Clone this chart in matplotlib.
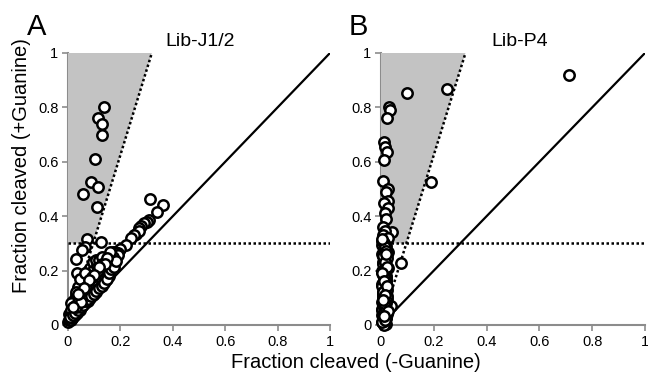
import matplotlib
matplotlib.use("Agg")
import matplotlib.pyplot as plt

plt.rcParams['font.family'] = ['Liberation Sans', 'DejaVu Sans']

# ---------------- data ----------------
titles = ["Lib-J1/2", "Lib-P4"]
panel_letters = ["A", "B"]
tick_vals = [0, 0.2, 0.4, 0.6, 0.8, 1]
tick_labels = ["0", "0.2", "0.4", "0.6", "0.8", "1"]
threshold_y = 0.3
ratio_end_x = 0.32

libJ_minus = [0.136, 0.116, 0.131, 0.131, 0.103, 0.089, 0.113, 0.058, 0.109,
              0.313, 0.364, 0.338, 0.31, 0.30, 0.29, 0.28, 0.27, 0.26, 0.27, 0.25, 0.24, 0.22, 0.20, 0.19, 0.18,
              0.125, 0.071, 0.064, 0.052, 0.031, 0.033, 0.173, 0.192,
              0.00, 0.005, 0.01, 0.005, 0.01, 0.02, 0.02, 0.015, 0.03, 0.03, 0.025, 0.04, 0.04, 0.035,
              0.05, 0.05, 0.045, 0.06, 0.06, 0.055, 0.07, 0.07, 0.065, 0.06, 0.08, 0.08, 0.075, 0.07,
              0.09, 0.09, 0.085, 0.08, 0.075, 0.10, 0.10, 0.095, 0.09, 0.085, 0.11, 0.11, 0.105, 0.10,
              0.095, 0.12, 0.12, 0.115, 0.11, 0.105, 0.13, 0.13, 0.125, 0.12, 0.14, 0.14, 0.135, 0.13,
              0.15, 0.15, 0.16, 0.17, 0.16, 0.05, 0.04, 0.03, 0.02, 0.01, 0.03, 0.045, 0.065,
              0.015, 0.025, 0.035, 0.045, 0.055, 0.065, 0.075, 0.085, 0.095, 0.105, 0.115, 0.125, 0.145, 0.155,
              0.008, 0.012, 0.018, 0.022, 0.028, 0.032, 0.038, 0.042, 0.048, 0.052, 0.058, 0.062,
              0.068, 0.072, 0.078, 0.082, 0.088, 0.092, 0.098, 0.102, 0.108, 0.112, 0.118, 0.122,
              0.128, 0.132, 0.138, 0.142, 0.148, 0.152, 0.158, 0.165, 0.175, 0.185, 0.03, 0.05,
              0.07, 0.09, 0.11, 0.13, 0.15, 0.14, 0.12, 0.10, 0.08, 0.06, 0.04, 0.02]
libJ_plus = [0.80, 0.76, 0.74, 0.70, 0.61, 0.527, 0.506, 0.48, 0.434,
             0.462, 0.441, 0.417, 0.386, 0.38, 0.375, 0.365, 0.355, 0.335, 0.345, 0.33, 0.32, 0.294, 0.28, 0.265, 0.27,
             0.306, 0.315, 0.286, 0.276, 0.241, 0.193, 0.27, 0.257,
             0.01, 0.02, 0.02, 0.04, 0.04, 0.03, 0.05, 0.07, 0.05, 0.07, 0.09, 0.06, 0.08, 0.10,
             0.08, 0.10, 0.12, 0.09, 0.11, 0.13, 0.10, 0.12, 0.14, 0.16, 0.11, 0.13, 0.15, 0.17,
             0.12, 0.14, 0.16, 0.18, 0.20, 0.13, 0.15, 0.17, 0.19, 0.21, 0.15, 0.17, 0.19, 0.21,
             0.23, 0.16, 0.18, 0.20, 0.22, 0.24, 0.18, 0.20, 0.22, 0.24, 0.19, 0.21, 0.23, 0.25,
             0.21, 0.23, 0.24, 0.25, 0.27, 0.15, 0.14, 0.11, 0.09, 0.08, 0.12, 0.17, 0.19,
             0.025, 0.035, 0.045, 0.055, 0.07, 0.08, 0.09, 0.10, 0.11, 0.12, 0.135, 0.145, 0.165, 0.18,
             0.03, 0.055, 0.035, 0.065, 0.045, 0.075, 0.055, 0.09, 0.065, 0.10, 0.075, 0.115,
             0.09, 0.125, 0.095, 0.145, 0.105, 0.155, 0.115, 0.165, 0.125, 0.18, 0.135, 0.19,
             0.145, 0.205, 0.155, 0.215, 0.17, 0.225, 0.19, 0.205, 0.215, 0.235, 0.065, 0.085,
             0.14, 0.175, 0.195, 0.225, 0.245, 0.225, 0.215, 0.185, 0.165, 0.135, 0.115, 0.065]

libP_minus = [0.712, 0.249, 0.097, 0.032, 0.034, 0.024, 0.013, 0.015, 0.024, 0.013, 0.189,
              0.009, 0.028, 0.02, 0.028, 0.01, 0.028, 0.015, 0.02, 0.006, 0.043, 0.015, 0.008, 0.028,
              0.075, 0.036,
              0.005, 0.01, 0.02, 0.015, 0.025, 0.005, 0.012, 0.018, 0.022, 0.008, 0.015, 0.025,
              0.005, 0.012, 0.02, 0.01, 0.018, 0.004, 0.014, 0.022, 0.008, 0.016, 0.006, 0.012,
              0.02, 0.01, 0.004, 0.015, 0.024, 0.008, 0.014, 0.005, 0.02, 0.01, 0.016, 0.003,
              0.012, 0.022, 0.006, 0.014, 0.009, 0.018, 0.004, 0.011, 0.017, 0.006, 0.013, 0.002,
              0.01, 0.02, 0.005, 0.012, 0.003, 0.008,
              0.007, 0.017, 0.011, 0.021, 0.006, 0.015, 0.009, 0.019, 0.004, 0.013, 0.023, 0.007,
              0.016, 0.01, 0.02, 0.005, 0.014, 0.008, 0.018, 0.012, 0.003, 0.017, 0.009, 0.013,
              0.019, 0.007, 0.014, 0.024, 0.004, 0.011, 0.021, 0.016, 0.006, 0.026, 0.012, 0.018]
libP_plus = [0.919, 0.866, 0.852, 0.80, 0.79, 0.76, 0.674, 0.656, 0.635, 0.607, 0.527,
             0.53, 0.50, 0.49, 0.455, 0.45, 0.43, 0.41, 0.39, 0.36, 0.343, 0.345, 0.33, 0.32,
             0.227, 0.07,
             0.31, 0.30, 0.29, 0.28, 0.27, 0.26, 0.25, 0.24, 0.26, 0.23, 0.22, 0.21,
             0.20, 0.19, 0.18, 0.17, 0.16, 0.15, 0.14, 0.13, 0.12, 0.11, 0.10, 0.09,
             0.08, 0.07, 0.06, 0.05, 0.04, 0.03, 0.02, 0.01, 0.005, 0.0, 0.045, 0.035,
             0.075, 0.095, 0.115, 0.135, 0.155, 0.175, 0.195, 0.215, 0.235, 0.255, 0.275, 0.295,
             0.015, 0.025, 0.055, 0.065, 0.085, 0.105,
             0.305, 0.285, 0.265, 0.245, 0.225, 0.205, 0.185, 0.165, 0.145, 0.125, 0.105, 0.085,
             0.065, 0.045, 0.025, 0.01, 0.02, 0.04, 0.06, 0.08, 0.315, 0.17, 0.12, 0.24,
             0.272, 0.252, 0.232, 0.212, 0.192, 0.162, 0.142, 0.112, 0.092, 0.052, 0.032, 0.262]

datasets = [(libJ_minus, libJ_plus), (libP_minus, libP_plus)]

# ---------------- figure ----------------
fig = plt.figure(figsize=(6.48, 3.76), dpi=100)
W, H = 648, 376
axes_px = [(68, 262), (381, 264)]
letter_px = [27, 349]
title_px = [200, 520]
ax_bottom_px, ax_top_px = 325, 53
spine_col = "#8c8c8c"

for i, (left, width) in enumerate(axes_px):
    ax = fig.add_axes([left / W, (H - ax_bottom_px) / H, width / W, (ax_bottom_px - ax_top_px) / H])
    xm, yp = datasets[i]
    ax.set_xlim(0, 1)
    ax.set_ylim(0, 1)
    ax.fill([0, 0, ratio_end_x, ratio_end_x * threshold_y], [threshold_y, 1, 1, threshold_y],
            color="#c3c3c3", lw=0, zorder=1)
    ax.plot([0, 1], [0, 1], color="black", lw=1.6, zorder=2)
    ax.plot([0, ratio_end_x], [0, 1], color="black", lw=1.8, ls=(0, (1, 1)), zorder=2)
    ax.plot([0, 1], [threshold_y, threshold_y], color="black", lw=1.8, ls=(0, (1, 1)), zorder=2)
    ax.scatter(xm, yp, s=56, facecolor="white", edgecolor="black", linewidths=1.8,
               zorder=3, clip_on=False)
    for s in ["top", "right"]:
        ax.spines[s].set_visible(False)
    for s in ["left", "bottom"]:
        ax.spines[s].set_color(spine_col)
        ax.spines[s].set_linewidth(1.5)
        ax.spines[s].set_zorder(0.5)
    ax.set_xticks(tick_vals)
    ax.set_xticklabels(tick_labels)
    ax.set_yticks(tick_vals)
    ax.set_yticklabels(tick_labels)
    ax.tick_params(direction="out", length=4, width=1.2, color=spine_col,
                   labelsize=10.5, pad=3)
    fig.text(title_px[i] / W, 1 - 42 / H, titles[i], fontsize=14, ha="center", va="center")
    fig.text(letter_px[i] / W, 1 - 27 / H, panel_letters[i], fontsize=21, ha="left", va="center")

fig.text(356 / W, 1 - 362 / H, "Fraction cleaved (-Guanine)", fontsize=14.5, ha="center", va="center")
fig.text(22 / W, 1 - 166 / H, "Fraction cleaved (+Guanine)", fontsize=14.5, ha="center", va="center",
         rotation=90)

fig.savefig("out.png", dpi=100)
